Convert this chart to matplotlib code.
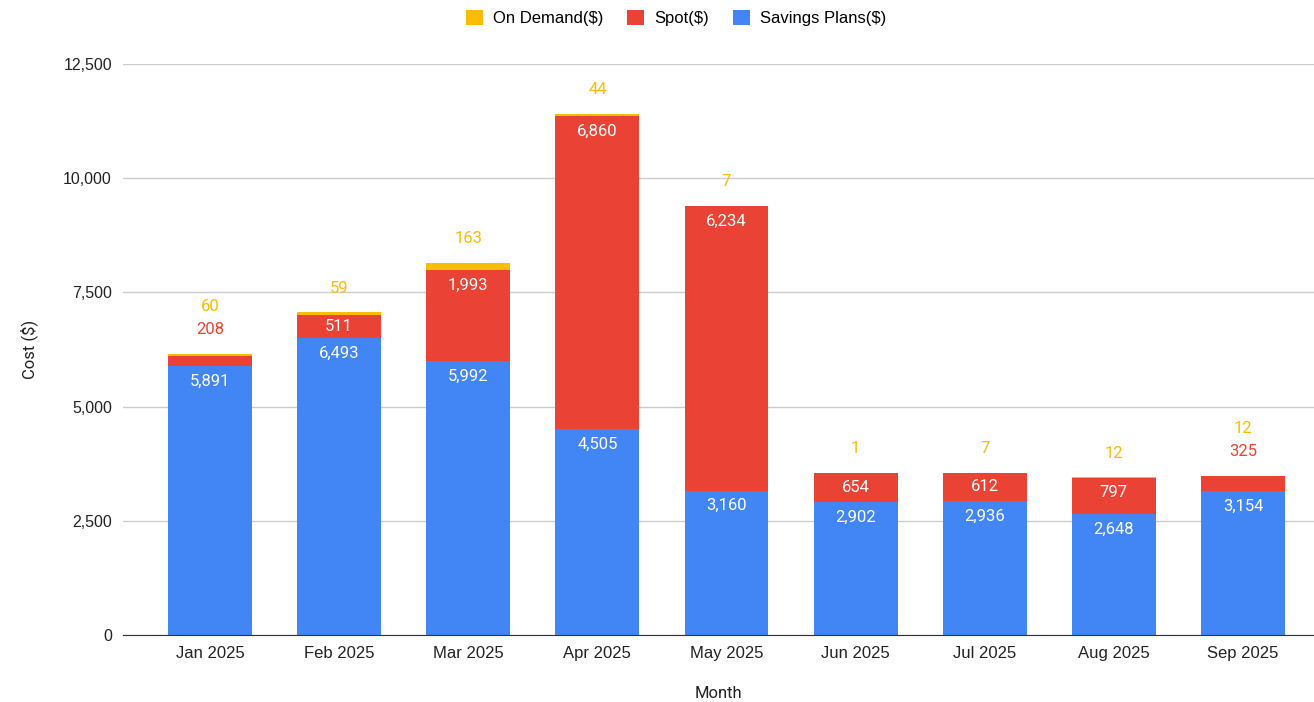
import matplotlib

matplotlib.use("Agg")
import matplotlib.pyplot as plt
import numpy as np

months = ["Jan 2025", "Feb 2025", "Mar 2025", "Apr 2025", "May 2025",
          "Jun 2025", "Jul 2025", "Aug 2025", "Sep 2025"]
savings_plans = [5891, 6493, 5992, 4505, 3160, 2902, 2936, 2648, 3154]
spot = [208, 511, 1993, 6860, 6234, 654, 612, 797, 325]
on_demand = [60, 59, 163, 44, 7, 1, 7, 12, 12]
y_ticks = [0, 2500, 5000, 7500, 10000, 12500]

C_OD, C_SPOT, C_SP = "#fbbc04", "#ea4335", "#4285f4"
LABEL_FONT = "Roboto"
AXIS_FONT = "Liberation Sans"

fig = plt.figure(figsize=(13.14, 7.02), dpi=100)
ax = fig.add_axes([123 / 1314, 1 - 635 / 702, 1 - 123 / 1314, (635 - 64) / 702])

x = np.arange(len(months))
w = 0.65
sp = np.array(savings_plans, float)
st = np.array(spot, float)
od = np.array(on_demand, float)

ax.bar(x, sp, w, color=C_SP, label="Savings Plans($)", zorder=3)
ax.bar(x, st, w, bottom=sp, color=C_SPOT, label="Spot($)", zorder=3)
ax.bar(x, od, w, bottom=sp + st, color=C_OD, label="On Demand($)", zorder=3)

ax.set_ylim(0, 12500)
ax.set_xlim(-0.674, 8.55)

# px -> data units on y
px = 12500 / 571.0
inside_min = 400

for i in range(len(months)):
    segs = [(sp[i], 0, C_SP), (st[i], sp[i], C_SPOT), (od[i], sp[i] + st[i], C_OD)]
    total = sp[i] + st[i] + od[i]
    outside = []
    for val, base, col in segs:
        if val >= inside_min:
            top = base + val
            yy = top - min(15 * px, val / 2)
            ax.text(x[i], yy, f"{int(val):,}", ha="center", va="center", color="white",
                    fontsize=12, family=LABEL_FONT, zorder=4)
        else:
            outside.append((val, col))
    for k, (val, col) in enumerate(outside):
        ax.annotate(f"{int(val):,}", (x[i], total), xytext=(0, (24 + 23.5 * k) * 0.72),
                    textcoords="offset points", ha="center", va="center", color=col,
                    fontsize=12, family=LABEL_FONT, zorder=4)

ax.set_yticks(y_ticks)
ax.set_yticklabels([f"{v:,}" for v in y_ticks], family=AXIS_FONT, fontsize=11.5, color="#222222")
ax.set_xticks(x)
ax.set_xticklabels(months, family=AXIS_FONT, fontsize=12, color="#222222")
ax.tick_params(axis="both", length=0)
ax.tick_params(axis="y", pad=8)
ax.tick_params(axis="x", pad=8)

ax.grid(axis="y", color="#cccccc", lw=1, zorder=0)
for s in ["top", "right", "left"]:
    ax.spines[s].set_visible(False)
ax.spines["bottom"].set_color("#333333")
ax.spines["bottom"].set_zorder(5)

ax.set_ylabel("Cost ($)", family=LABEL_FONT, fontsize=12, color="#222222", labelpad=18)
ax.set_xlabel("Month", family=LABEL_FONT, fontsize=12, color="#222222", labelpad=18)

handles, labels = ax.get_legend_handles_labels()
order = [2, 1, 0]
fig.legend([handles[j] for j in order], [labels[j] for j in order], loc="center",
           bbox_to_anchor=(676 / 1314, 1 - 18 / 702), ncol=3, frameon=False,
           prop={"family": AXIS_FONT, "size": 12}, handlelength=1.05, handleheight=1.05,
           handletextpad=0.6, columnspacing=1.4)

fig.savefig("out.png", dpi=100)
